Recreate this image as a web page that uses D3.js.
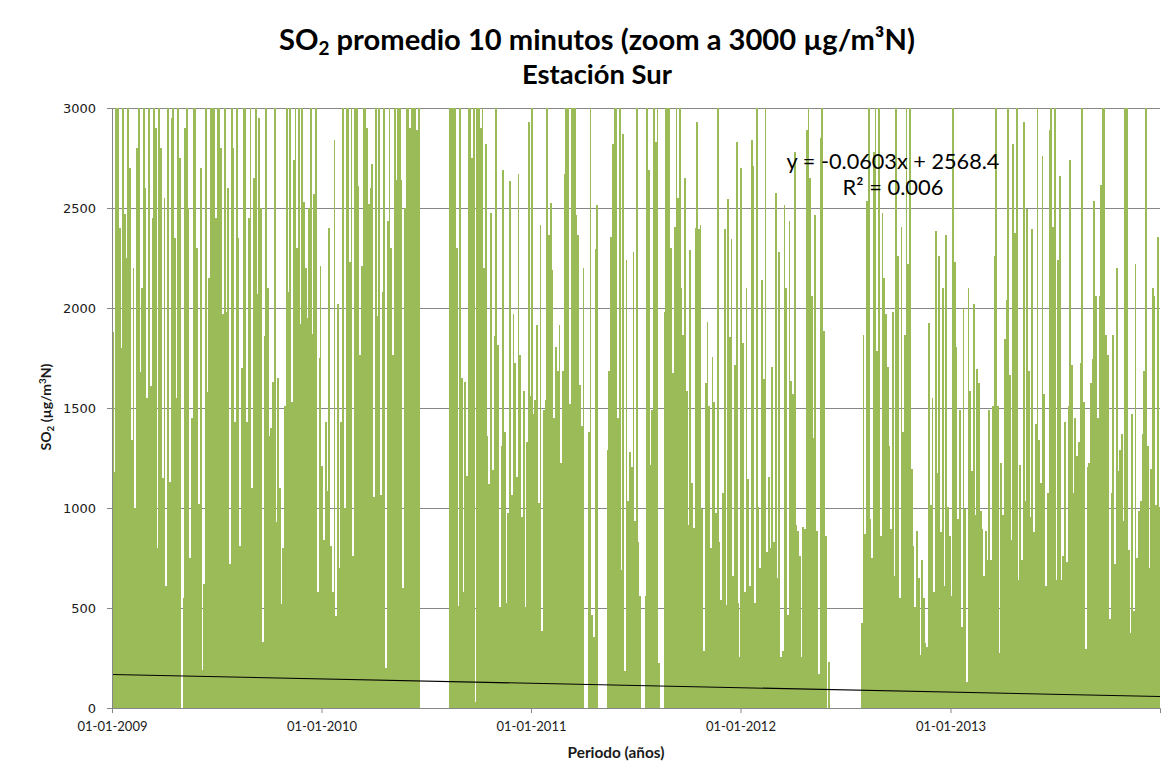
<!DOCTYPE html>
<html>
<head>
<meta charset="utf-8">
<script src="https://cdn.jsdelivr.net/npm/d3@7"></script>
<style>
  body { margin: 0; background: #ffffff; }
  svg { display: block; }
</style>
</head>
<body>
<svg id="chart" width="1170" height="775"></svg>
<script>
// SO2 10-minute record, Estación Sur: peak level per 3-day step (µg/m³N).
// Values above 3000 are drawn clipped at the 3000 ceiling; null = no data.
const so2_2009 = [1880, 1180, 3200, 3200, 2400, 1800, 3200, 2470, 2250, 3200,
  2700, 1340, 2200, 1000, 2800, 3200, 1680, 2100, 3200, 2600,
  1550, 3200, 1610, 2450, 3200, 2900, 800, 3200, 2800, 1150,
  2550, 610, 3200, 1130, 2950, 3200, 2350, 1550, 3200, 2750,
  0, 550, 2900, 3200, 2500, 750, 1450, 3200, 3200, 2300,
  1020, 2700, 190, 620, 3200, 1580, 2150, 3200, 3200, 3200,
  2450, 3200, 3200, 2800, 1970, 3200, 1980, 2600, 720, 3200,
  2800, 1430, 3200, 2350, 810, 1700, 3200, 3200, 1430, 2450,
  3200, 1100, 2650, 3200, 2070, 2950, 2500, 330, 1860, 3200,
  2100, 1360, 1400, 1630, 3200, 930, 1650, 1100, 520, 800,
  1510, 3200, 2080, 3200, 1530, 2740, 3200, 2300, 3200, 1920,
  3200, 2530, 2200, 1950, 2500, 3200, 1870, 2570, 3200, 580,
  1750, 2210];

const so2_2010 = [1210, 840, 1430, 1085, 2400, 810, 580, 2840, 460, 2020,
  700, 1430, 3200, 1000, 3200, 3200, 2230, 3200, 760, 3200,
  3200, 2610, 1765, 2210, 3200, 3200, 2900, 2520, 2600, 2720,
  1055, 3200, 1960, 3200, 1065, 2080, 3200, 200, 2435, 3200,
  2300, 1765, 3200, 2640, 3200, 3200, 2640, 600, 2500, 3200,
  3200, 2900, 3200, 3200, 3200, 2890, 3200, null, null, null,
  null, null, null, null, null, null, null, null, null, null,
  null, null, null, null, 3200, 3200, 3200, 3200, 2300, 510,
  3200, 1650, 580, 1630, 1160, 3200, 3200, 2750, 3200, 30,
  3200, 3200, 2900, 3200, 2200, 2820, 1360, 1120, 2475, 1190,
  1860, 3200, 1814, 503, 1311, 2692, 1380, 523, 976, 2633,
  1065, 1972, 1726, 1154, 2672, 1765, 956, 1587, 503, 1331,
  2928, 1558];

const so2_2011 = [3200, 1469, 1538, 1913, 1025, 2416, 385, 1489, 1538, 3200,
  2366, 2524, 2189, 1450, 1804, 1686, 1913, 1223, 1686, 2672,
  3200, 3200, 1518, 3200, 3200, 3200, 2465, 2366, 1617, 1410,
  2200, null, null, 1380, 3200, 463, 355, 2297, 2514, null,
  null, null, null, null, 1291, 1686, 2356, 2820, 3200, 3200,
  1450, 3200, 690, 2869, 187, 2238, 1035, 1282, 1203, 2278,
  937, 3200, 828, 562, null, null, 562, 3200, 2692, 1213,
  1489, 3200, 2830, 3200, 227, null, null, 1982, 3200, 3200,
  3200, 2300, 1676, 2406, 3200, 2550, 3200, 2100, 1864, 2652,
  1587, 917, 2288, 1124, 898, 2400, 2928, 2396, 2416, 996,
  286, 1627, 1932, 1509, 799, 1755, 1528, 976, 3200, 828,
  542, 1075, 2396, 513, 2544, 1854, 2347, 661, 1716, 2830,
  523, 256];

const so2_2012 = [2702, 1824, 582, 2100, 1144, 611, 2840, 2712, 523, 3200,
  1006, 700, 2140, 1647, 3200, 779, 1154, 799, 1706, 828,
  2573, 651, 2278, 256, 286, 2514, 2100, 463, 2435, 1637,
  1568, 2781, 917, 887, 759, 256, 907, 897, 2889, 3200,
  2652, 2061, 1351, 2465, 887, 168, 2850, 3200, 1883, 858,
  null, 230, null, null, null, null, null, null, null, null,
  null, null, null, null, null, null, null, null, null, null,
  424, 1864, 868, 2534, 3200, 947, 749, 2781, 3200, 1785,
  3200, 858, 2475, 2150, 1972, 1706, 1311, 897, 1982, 661,
  3200, 2258, 552, 2406, 1380, 1864, 3200, 2218, 3200, 1193,
  808, 503, 887, 651, 266, 739, 552, 325, 306, 1923,
  1016, 1548, 582, 2386, 1173, 2258, 878, 2100, 611, 2366,
  1006, 858];

const so2_2013 = [562, 3200, 2228, 1804, 947, 1489, 404, 2002, 996, 128,
  2100, 1587, 1183, 2021, 966, 1696,
  1627, 986, 897, 661, 887, 739, 1489, 739, 1509, 2258,
  3200, 1509, 276, 1223, 966, 1844, 2041, 3200, 1666, 838,
  2820, 2376, 3200, 641, 1213, 739, 2928, 1035, 2495, 1686,
  956,
  2396, 878, 1420, 3200, 1341, 1124, 2761, 1568, 611, 1075,
  2889, 3200, 2406, 3200, 641, 2238, 2662, 641, 759, 1430,
  730,
  1509, 2741, 1716, 1075, 1450, 1262, 1331, 1726, 3200, 1528,
  296, 1203, 1223, 1627, 1745, 2534, 2061, 1450, 2061, 2613,
  3200,
  3200, 1864, 1765, 444, 1075, 1864, 720, 2199, 1183, 1291,
  1371, 937, 3200,
  3200, 789, 375, 1469, 483, 2218, 749, 986, 1035, 1371,
  1686, 3200, 1311, 700, 1193, 2100, 2061, 1016, 2356, 1006];

const yearStarts = ["2009-01-01", "2010-01-01", "2011-01-01", "2012-01-01", "2013-01-01"];
const yearSeries = [so2_2009, so2_2010, so2_2011, so2_2012, so2_2013];
const stepDays = 3;
const periodEnd = "2014-01-01";

const yTicks = [0, 500, 1000, 1500, 2000, 2500, 3000];
const xTickLabels = ["01-01-2009", "01-01-2010", "01-01-2011", "01-01-2012", "01-01-2013"];

// Linear trend reported by the spreadsheet (x = serial date number)
const trendSlope = -0.0603;
const trendIntercept = 2568.4;
const trendR2 = "0.006";

const parse = d3.utcParse("%Y-%m-%d");
const parseLabel = d3.utcParse("%d-%m-%Y");

const svg = d3.select("#chart");
const plotLeft = 112, plotRight = 1160, plotTop = 108, plotBottom = 708;
const FONT = "Lato, 'Open Sans', 'Noto Sans', sans-serif";
const GREEN = "#9bbb59";
const GRID = "#868686";

const x = d3.scaleUtc().domain([parse(yearStarts[0]), parse(periodEnd)]).range([plotLeft, plotRight]);
const y = d3.scaleLinear().domain([0, 3000]).range([plotBottom, plotTop]).clamp(true);

// flatten the yearly arrays into dated steps
const samples = [];
yearSeries.forEach((arr, k) => {
  const start = parse(yearStarts[k]);
  const yearEnd = k + 1 < yearStarts.length ? parse(yearStarts[k + 1]) : parse(periodEnd);
  arr.forEach((v, i) => {
    if (v === null) return;
    const d0 = d3.utcDay.offset(start, i * stepDays);
    let d1 = d3.utcDay.offset(d0, stepDays);
    if (d1 > yearEnd) d1 = yearEnd;
    samples.push({ d0, d1, v });
  });
});

// horizontal gridlines (behind the data)
svg.append("g")
  .selectAll("line")
  .data(yTicks.filter(t => t > 0))
  .join("line")
  .attr("x1", plotLeft).attr("x2", plotRight)
  .attr("y1", d => Math.round(y(d)) + 0.5).attr("y2", d => Math.round(y(d)) + 0.5)
  .attr("stroke", GRID).attr("stroke-width", 1);

// series columns
svg.append("g")
  .attr("shape-rendering", "crispEdges")
  .selectAll("rect")
  .data(samples)
  .join("rect")
  .attr("x", d => Math.round(x(d.d0)))
  .attr("width", d => Math.max(1, Math.round(x(d.d1)) - Math.round(x(d.d0))))
  .attr("y", d => Math.round(y(d.v)))
  .attr("height", d => plotBottom - Math.round(y(d.v)))
  .attr("fill", GREEN);

// trend line
const serial = d => (d - Date.UTC(1899, 11, 30)) / 864e5;
const trendDates = [parse(yearStarts[0]), parse(periodEnd)];
svg.append("path")
  .datum(trendDates)
  .attr("d", d3.line().x(d => x(d)).y(d => y(trendSlope * serial(d) + trendIntercept)))
  .attr("fill", "none")
  .attr("stroke", "#000")
  .attr("stroke-width", 1.1);

// y axis
const yAxis = svg.append("g")
  .attr("transform", `translate(${plotLeft},0)`)
  .call(d3.axisLeft(y).tickValues(yTicks).tickSize(5).tickPadding(11).tickFormat(d3.format("d")));
yAxis.select(".domain").attr("stroke", GRID);
yAxis.selectAll(".tick line").attr("stroke", GRID);
yAxis.selectAll(".tick text")
  .attr("font-family", "'DejaVu Sans', sans-serif")
  .attr("font-size", 13)
  .attr("fill", "#1a1a1a");

// x axis
const xAxis = svg.append("g")
  .attr("transform", `translate(0,${plotBottom})`)
  .call(d3.axisBottom(x)
    .tickValues(xTickLabels.map(s => parseLabel(s)))
    .tickSize(5).tickPadding(9)
    .tickFormat(d3.utcFormat("%d-%m-%Y")));
xAxis.select(".domain").attr("stroke", GRID);
xAxis.selectAll(".tick line").attr("stroke", GRID);
xAxis.selectAll(".tick text")
  .attr("font-family", FONT)
  .attr("font-size", 13)
  .attr("fill", "#1a1a1a");

// fit a text element to a given width by scaling its font size
function fitWidth(sel, base, width) {
  sel.attr("font-size", base);
  const w = sel.node().getComputedTextLength();
  sel.attr("font-size", base * width / w);
}

// title
const t1 = svg.append("text")
  .attr("x", 597).attr("y", 50)
  .attr("text-anchor", "middle")
  .attr("font-family", FONT).attr("font-weight", 700).attr("fill", "#000");
t1.append("tspan").text("SO");
t1.append("tspan").attr("font-size", "0.65em").attr("dy", 5).text("2");
t1.append("tspan").attr("dy", -5).text(" promedio 10 minutos (zoom a 3000 µg/m³N)");
fitWidth(t1, 24, 636);

const t2 = svg.append("text")
  .attr("x", 597).attr("y", 84)
  .attr("text-anchor", "middle")
  .attr("font-family", FONT).attr("font-weight", 700).attr("fill", "#000")
  .text("Estación Sur");
fitWidth(t2, 24, 150);

// trendline equation
const eq1 = svg.append("text")
  .attr("x", 893).attr("y", 169)
  .attr("text-anchor", "middle")
  .attr("font-family", FONT).attr("fill", "#000")
  .text(`y = ${trendSlope}x + ${trendIntercept}`);
fitWidth(eq1, 18, 213);

const eq2 = svg.append("text")
  .attr("x", 893).attr("y", 195)
  .attr("text-anchor", "middle")
  .attr("font-family", FONT).attr("fill", "#000")
  .text(`R² = ${trendR2}`);
fitWidth(eq2, 18, 101);

// axis titles
const xt = svg.append("text")
  .attr("x", 616).attr("y", 758)
  .attr("text-anchor", "middle")
  .attr("font-family", FONT).attr("font-weight", 700)
  .attr("fill", "#1a1a1a")
  .text("Periodo (años)");
fitWidth(xt, 13, 97);

const yt = svg.append("text")
  .attr("transform", "translate(51,407) rotate(-90)")
  .attr("text-anchor", "middle")
  .attr("font-family", FONT).attr("font-weight", 700)
  .attr("fill", "#1a1a1a");
yt.append("tspan").text("SO");
yt.append("tspan").attr("font-size", "0.7em").attr("dy", 3).text("2");
yt.append("tspan").attr("dy", -3).text(" (µg/m");
yt.append("tspan").attr("font-size", "0.7em").attr("dy", -5).text("3");
yt.append("tspan").attr("dy", 5).text("N)");
fitWidth(yt, 13, 87);
</script>
</body>
</html>
